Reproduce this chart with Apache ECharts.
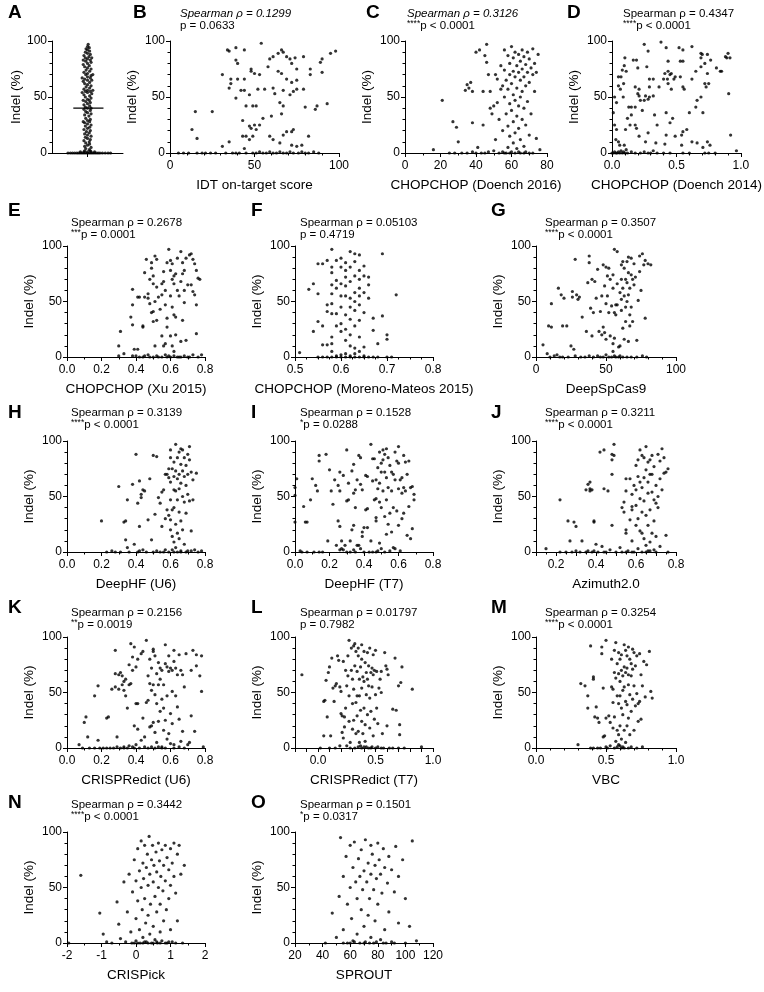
<!DOCTYPE html>
<html><head><meta charset="utf-8">
<script src="https://cdn.jsdelivr.net/npm/echarts@6/dist/echarts.min.js"></script>
<style>html,body{margin:0;padding:0;background:#fff}#c{width:764px;height:992px}</style>
</head><body><div id="c"></div><script>
// ---------------- DATA ----------------
const A_x = [-0.55,-0.48,-0.42,-0.36,-0.3,-0.25,-0.2,-0.15,-0.1,-0.05,0,0.05,0.1,0.15,0.2,0.25,0.3,0.35,0.42,0.5,0.58,0.65,-0.2,-0.1,0,0.1,0.2,-0.08,0.08,
0.05,-0.05,0.1,-0.08,0,0.06,-0.05,0.05,-0.1,0.08,0,-0.06,0.1,0,-0.08,0.05,-0.03,0.08,-0.1,0,0.06,-0.06,0.1,0,-0.08,0.06,-0.12,0,0.08,-0.05,0.04,-0.08,0.1,0,-0.05,0.08,-0.1,0,0.1,-0.06,0.06,-0.1,0,0.08,-0.05,0.05,-0.12,0,0.1,-0.06,0.06,-0.1,0.12,0,-0.15,0.08,-0.06,0.15,0,-0.1,0.06,-0.04,0.1,0,-0.08,0.06,-0.12,0,0.12,-0.08,0.08,-0.15,0,0.1,-0.05,0.15,0,-0.1,0.06,-0.04,0.1,0,-0.08,0.05,-0.12,0,0.1,-0.05,0.08,-0.12,0,0.12,-0.06,0.04,-0.1,0.08,0,-0.06,0.06,0,-0.04,0.05,0,0.02];
const A_y = [0,0,0,0,0,0,0,0,0,0,0,0,0,0,0,0,0,0,0,0,0,0,1,1,1,1,1,2,2,
3,4,5,6,7,8,9,10,11,12,13,14,15,16,17,18,19,20,21,22,23,24,25,26,27,28,28,29,30,31,33,34,35,36,37,38,39,40,40,41,42,43,44,45,46,47,47,48,49,50,51,52,53,54,54,55,55,56,56,57,58,59,60,61,62,63,64,65,65,66,67,67,68,69,70,70,71,72,73,74,75,76,77,78,79,80,81,82,83,83,84,85,85,86,87,88,89,90,91,92,93,94,95,97];
const A_mean = 40;

const B_pts = [[13,21],[15,37],[25,37],[16,13],[31,6],[35,10],[31,70],[34,92],[35,91],[39,94],[44,92],[39,83],[40,80],[36,66],[36,62],[35,58],[39,49],[40,66],[44,66],[42,56],[44,56],[48,75],[50,71],[53,70],[47,52],[45,42],[49,42],[43,29],[43,15],[45,15],[47,24],[50,25],[53,25],[49,15],[44,4],[47,12],
[48,73],[54,98],[52,57],[56,57],[59,84],[58,77],[61,86],[64,89],[66,92],[67,90],[69,86],[71,84],[74,85],[79,86],[72,80],[75,75],[83,75],[83,70],[90,84],[89,81],[95,89],[98,91],[90,72],[64,73],[66,71],[69,66],[72,63],[75,65],[61,58],[62,53],[67,56],[73,55],[75,57],[79,57],[71,52],[65,45],[67,42],[80,41],[86,39],[93,44],[87,42],[51,42],[55,31],[60,33],[66,35],[69,19],[72,19],[73,21],[59,15],[61,12],[65,9],[67,16],[72,7],[75,6],[78,7],[82,15],[48,22],[51,21],
[5,0],[8,0],[11,0],[16,0],[19,0],[21,0],[24,0],[27,0],[33,0],[37,0],[39,0],[41,0],[45,0],[49,0],[51,0],[53,1],[55,0],[57,0],[59,1],[61,0],[63,0],[65,1],[67,0],[69,0],[71,1],[73,0],[76,0],[78,1],[80,0],[82,0],[85,1],[88,0]];

const C_pts = [[16,3],[21,47],[25,0],[27,28],[28,0],[29,23],[30,10],[32,0],[34,56],[35,61],[35,0],[36,58],[37,63],[38,55],[38,27],[40,0],[40,90],[41,5],[42,92],[43,0],[44,55],[44,25],[45,87],[46,97],[46,81],[47,70],[47,1],[48,55],[48,40],[49,35],[50,2],[50,42],[51,70],[51,12],[52,66],[52,45],[53,0],[53,30],[54,57],[54,78],[55,60],[55,20],[55,1],[56,92],[56,50],[56,74],[57,65],[57,35],[57,0],[58,87],[58,57],[58,24],[58,5],[59,80],[59,70],[59,44],[59,15],[60,95],[60,62],[60,38],[60,1],[61,85],[61,73],[61,52],[61,28],[61,9],[62,90],[62,68],[62,47],[62,18],[62,0],[63,78],[63,58],[63,33],[63,4],[64,88],[64,72],[64,42],[64,22],[65,82],[65,65],[65,50],[65,12],[65,0],[66,92],[66,75],[66,55],[66,30],[67,86],[67,68],[67,40],[67,6],[68,79],[68,60],[68,25],[68,1],[69,90],[69,72],[69,46],[70,84],[70,63],[70,16],[71,76],[71,35],[72,93],[72,70],[72,0],[73,80],[73,55],[74,72],[74,13],[75,88],[76,3],[70,0],[67,0],[64,1],[59,0],[56,0],[45,0],[38,1]];

const D_pts = [[0.02,50],[0.035,45],[0.01,36],[0.02,25],[0.035,21],[0.03,12],[0.05,10],[0.06,7],[0.05,68],[0.07,68],[0.05,60],[0.065,57],[0.09,62],[0.095,78],[0.1,85],[0.08,74],[0.11,73],[0.087,50],[0.12,31],[0.13,41],[0.105,21],[0.095,7],[0.15,41],[0.18,41],[0.15,34],[0.14,25],[0.165,83],[0.19,83],[0.2,76],[0.18,59],[0.2,53],[0.21,51],[0.21,57],[0.22,47],[0.25,47],[0.235,38],[0.26,51],[0.18,25],[0.19,22],[0.21,15],[0.25,97],[0.28,91],[0.27,77],[0.29,66],[0.29,59],[0.29,50],[0.28,48],[0.32,66],[0.32,51],[0.33,34],[0.35,25],[0.28,18],[0.26,10],[0.34,9],[0.32,2],[0.365,59],[0.38,99],[0.42,94],[0.4,66],[0.41,71],[0.435,73],[0.45,70],[0.46,71],[0.43,66],[0.48,66],[0.49,68],[0.435,62],[0.46,57],[0.435,82],[0.42,36],[0.47,31],[0.45,27],[0.42,16],[0.41,8],[0.49,15],[0.52,94],[0.55,92],[0.53,82],[0.55,82],[0.53,68],[0.55,59],[0.56,57],[0.55,19],[0.54,16],[0.54,7],[0.58,21],[0.6,36],[0.62,95],[0.62,66],[0.65,73],[0.66,47],[0.65,41],[0.62,10],[0.66,9],[0.69,89],[0.69,85],[0.69,77],[0.72,80],[0.7,88],[0.74,88],[0.765,83],[0.74,71],[0.73,59],[0.72,62],[0.75,62],[0.69,50],[0.705,36],[0.705,5],[0.74,10],[0.76,7],[0.81,76],[0.84,73],[0.85,73],[0.88,86],[0.89,85],[0.9,89],[0.915,85],[0.905,53],[0.92,16],[0.965,2],
[0,0],[0.01,0],[0.02,1],[0.03,0],[0.04,0],[0.05,1],[0.06,0],[0.07,2],[0.08,0],[0.09,1],[0.1,0],[0.11,3],[0.12,0],[0.15,1],[0.18,0],[0.22,0],[0.25,1],[0.28,0],[0.3,0],[0.35,0],[0.4,0],[0.45,0],[0.55,0],[0.6,0],[0.72,0],[0.75,0],[0.8,0]];

const E_pts = [[0.3,1],[0.3,10],[0.31,23],[0.33,3],[0.37,36],[0.38,61],[0.38,47],[0.38,29],[0.39,7],[0.41,7],[0.41,54],[0.42,54],[0.4,1],[0.38,1],[0.44,27],[0.44,28],[0.45,54],[0.45,76],[0.46,88],[0.47,53],[0.47,57],[0.48,48],[0.48,70],[0.45,1],[0.47,2],[0.44,0],[0.49,80],[0.49,85],[0.5,73],[0.5,66],[0.5,41],[0.5,32],[0.51,10],[0.51,91],[0.52,88],[0.52,63],[0.51,50],[0.49,40],[0.52,33],[0.5,0],[0.52,1],[0.53,54],[0.54,43],[0.55,66],[0.55,56],[0.56,77],[0.56,68],[0.57,60],[0.57,47],[0.58,35],[0.58,27],[0.55,19],[0.56,10],[0.57,12],[0.58,85],[0.55,0],[0.57,2],[0.58,0],[0.59,97],[0.6,87],[0.61,84],[0.6,78],[0.61,70],[0.62,73],[0.62,66],[0.63,75],[0.6,55],[0.61,45],[0.62,38],[0.63,36],[0.6,19],[0.61,10],[0.62,5],[0.63,20],[0.64,89],[0.64,60],[0.6,0],[0.62,1],[0.64,0],[0.66,95],[0.67,85],[0.67,75],[0.66,68],[0.65,55],[0.68,60],[0.68,49],[0.67,33],[0.69,15],[0.66,14],[0.68,78],[0.69,89],[0.7,65],[0.65,0],[0.68,1],[0.7,0],[0.71,92],[0.72,93],[0.73,88],[0.74,84],[0.75,78],[0.74,56],[0.76,71],[0.77,70],[0.75,47],[0.75,21],[0.72,65],[0.73,59],[0.71,0],[0.73,2],[0.76,0],[0.78,2],[0.42,0],[0.48,0],[0.53,0],[0.59,1],[0.66,0]];

const F_pts = [[0.51,4],[0.53,61],[0.54,66],[0.54,23],[0.55,84],[0.55,57],[0.55,32],[0.56,84],[0.56,28],[0.57,87],[0.57,47],[0.57,41],[0.56,11],[0.57,11],[0.58,97],[0.58,81],[0.58,76],[0.58,65],[0.58,57],[0.58,48],[0.58,39],[0.58,18],[0.58,12],[0.58,5],[0.59,87],[0.59,69],[0.59,62],[0.59,39],[0.59,28],[0.6,89],[0.6,81],[0.6,66],[0.6,55],[0.6,45],[0.6,30],[0.6,23],[0.61,85],[0.61,78],[0.61,72],[0.61,64],[0.61,55],[0.61,38],[0.61,25],[0.61,15],[0.61,3],[0.62,95],[0.62,81],[0.62,68],[0.62,53],[0.62,45],[0.62,34],[0.62,20],[0.62,10],[0.63,93],[0.63,86],[0.63,73],[0.63,58],[0.63,50],[0.63,42],[0.63,28],[0.63,8],[0.63,3],[0.64,92],[0.64,78],[0.64,70],[0.64,62],[0.64,55],[0.64,47],[0.64,33],[0.64,18],[0.64,5],[0.65,82],[0.65,73],[0.65,58],[0.65,40],[0.65,9],[0.66,72],[0.66,65],[0.66,53],[0.67,35],[0.67,24],[0.68,12],[0.69,93],[0.69,37],[0.7,20],[0.7,16],[0.72,56],
[0.55,0],[0.56,0],[0.57,0],[0.58,0],[0.59,0],[0.6,0],[0.61,0],[0.62,0],[0.63,0],[0.64,0],[0.65,0],[0.66,0],[0.67,0],[0.68,0],[0.7,0],[0.71,0],[0.59,1],[0.6,2],[0.62,1],[0.65,1]];

const G_pts = [[5,11],[8,3],[9,28],[11,27],[11,48],[15,2],[16,62],[18,56],[19,28],[20,53],[22,28],[26,59],[26,54],[25,10],[27,7],[28,88],[29,56],[30,52],[31,54],[33,36],[36,23],[37,67],[38,91],[38,85],[39,44],[40,70],[40,19],[41,40],[42,68],[43,53],[44,79],[45,23],[46,41],[47,20],[47,55],[48,27],[48,83],[49,64],[49,22],[50,48],[50,81],[50,16],[51,73],[51,55],[52,80],[52,40],[53,19],[53,70],[54,46],[55,62],[55,74],[55,12],[55,5],[56,97],[56,40],[56,17],[57,38],[57,47],[58,95],[58,66],[58,47],[59,9],[60,10],[60,58],[61,83],[61,70],[61,52],[61,42],[62,86],[62,62],[62,26],[63,80],[63,55],[63,16],[64,70],[64,45],[64,32],[65,86],[65,67],[65,50],[66,90],[66,76],[66,56],[66,14],[67,62],[67,38],[67,28],[68,89],[68,74],[68,45],[69,70],[69,32],[70,84],[70,65],[71,72],[72,15],[73,51],[74,77],[74,91],[75,60],[76,93],[77,83],[78,87],[78,35],[80,84],[82,83],
[10,0],[13,1],[17,0],[19,0],[23,0],[28,1],[32,0],[35,0],[38,1],[41,0],[44,1],[46,0],[48,0],[50,2],[52,0],[54,0],[56,1],[57,0],[59,0],[60,1],[62,0],[65,0],[68,0],[72,0],[76,1],[79,0]];

const H_pts = [[0.2,28],[0.23,0],[0.26,1],[0.28,0],[0.3,59],[0.31,0],[0.33,27],[0.34,28],[0.34,11],[0.35,4],[0.35,47],[0.36,0],[0.38,61],[0.39,7],[0.4,88],[0.41,0],[0.41,44],[0.42,64],[0.42,23],[0.42,1],[0.43,49],[0.43,52],[0.44,56],[0.44,2],[0.45,55],[0.46,0],[0.47,29],[0.48,66],[0.49,11],[0.5,87],[0.5,0],[0.51,34],[0.52,86],[0.52,1],[0.53,49],[0.54,44],[0.55,54],[0.55,23],[0.56,56],[0.56,0],[0.57,70],[0.57,30],[0.57,2],[0.58,38],[0.58,70],[0.59,33],[0.59,75],[0.59,67],[0.59,0],[0.6,92],[0.6,85],[0.6,63],[0.6,47],[0.6,29],[0.6,20],[0.61,75],[0.61,38],[0.61,14],[0.61,2],[0.62,81],[0.62,68],[0.62,56],[0.62,40],[0.62,9],[0.63,97],[0.63,73],[0.63,55],[0.63,25],[0.63,4],[0.64,85],[0.64,66],[0.64,47],[0.64,17],[0.64,0],[0.65,90],[0.65,70],[0.65,57],[0.65,36],[0.65,12],[0.66,93],[0.66,79],[0.66,62],[0.66,28],[0.66,1],[0.67,92],[0.67,73],[0.67,50],[0.67,20],[0.68,85],[0.68,68],[0.68,45],[0.68,7],[0.69,78],[0.69,60],[0.69,35],[0.69,0],[0.7,88],[0.7,70],[0.7,52],[0.71,95],[0.71,83],[0.71,46],[0.72,72],[0.72,19],[0.72,1],[0.73,65],[0.73,47],[0.74,2],[0.75,71],[0.76,0],[0.78,1],[0.62,0],[0.66,0],[0.7,1],[0.54,0]];

const I_pts = [[0.0,58],[0.0,51],[0.0,27],[0.01,66],[0.03,1],[0.04,0],[0.05,41],[0.06,27],[0.07,27],[0.07,0],[0.09,47],[0.1,66],[0.11,0],[0.12,60],[0.13,55],[0.14,87],[0.14,82],[0.14,0],[0.16,0],[0.18,88],[0.19,10],[0.2,74],[0.21,55],[0.22,43],[0.23,65],[0.24,6],[0.25,60],[0.25,28],[0.26,72],[0.26,55],[0.26,23],[0.26,2],[0.27,10],[0.27,3],[0.28,2],[0.28,69],[0.29,6],[0.3,92],[0.3,46],[0.3,0],[0.31,47],[0.31,62],[0.32,10],[0.32,0],[0.33,20],[0.33,73],[0.34,79],[0.34,53],[0.34,24],[0.34,2],[0.35,56],[0.35,0],[0.35,40],[0.36,65],[0.36,6],[0.37,87],[0.37,6],[0.38,85],[0.38,61],[0.38,3],[0.39,56],[0.39,18],[0.39,14],[0.4,22],[0.4,0],[0.41,69],[0.41,38],[0.42,68],[0.42,39],[0.42,22],[0.43,0],[0.44,97],[0.44,10],[0.45,84],[0.45,64],[0.45,0],[0.46,84],[0.46,47],[0.47,65],[0.47,48],[0.47,31],[0.47,28],[0.47,0],[0.48,76],[0.48,57],[0.48,1],[0.49,90],[0.49,62],[0.49,45],[0.49,8],[0.5,80],[0.5,72],[0.5,40],[0.5,3],[0.51,92],[0.51,83],[0.51,55],[0.52,88],[0.52,72],[0.52,32],[0.52,0],[0.53,93],[0.53,67],[0.53,47],[0.53,16],[0.54,85],[0.54,58],[0.54,25],[0.55,78],[0.55,35],[0.55,1],[0.56,72],[0.56,55],[0.56,18],[0.57,70],[0.57,40],[0.57,4],[0.58,90],[0.58,65],[0.58,3],[0.59,82],[0.59,37],[0.6,95],[0.6,80],[0.6,57],[0.6,24],[0.61,65],[0.61,1],[0.62,67],[0.62,53],[0.62,30],[0.63,87],[0.63,58],[0.63,35],[0.64,81],[0.64,55],[0.65,70],[0.65,15],[0.66,82],[0.66,41],[0.67,58],[0.67,12],[0.68,59],[0.68,21],[0.69,52],[0.69,47]];

const J_pts = [[0.15,3],[0.22,47],[0.22,0],[0.26,28],[0.27,10],[0.28,0],[0.29,27],[0.3,23],[0.3,1],[0.32,0],[0.33,10],[0.35,0],[0.35,56],[0.36,61],[0.37,57],[0.37,55],[0.37,63],[0.38,56],[0.39,28],[0.39,27],[0.39,1],[0.4,7],[0.41,0],[0.42,90],[0.43,5],[0.44,92],[0.44,57],[0.44,0],[0.46,55],[0.47,2],[0.48,88],[0.48,83],[0.48,70],[0.48,24],[0.49,97],[0.49,87],[0.5,0],[0.52,4],[0.53,40],[0.54,36],[0.54,45],[0.55,66],[0.55,55],[0.55,17],[0.55,20],[0.56,1],[0.57,66],[0.57,29],[0.58,41],[0.58,38],[0.58,52],[0.58,10],[0.59,60],[0.59,0],[0.6,78],[0.6,56],[0.6,24],[0.6,42],[0.61,83],[0.61,68],[0.61,30],[0.61,3],[0.62,92],[0.62,63],[0.62,48],[0.62,19],[0.63,87],[0.63,58],[0.63,36],[0.63,17],[0.63,0],[0.64,85],[0.64,67],[0.64,46],[0.64,12],[0.65,95],[0.65,74],[0.65,33],[0.65,6],[0.66,81],[0.66,63],[0.66,53],[0.66,24],[0.66,1],[0.67,83],[0.67,70],[0.67,38],[0.67,9],[0.68,87],[0.68,70],[0.68,54],[0.68,17],[0.69,77],[0.69,47],[0.69,28],[0.69,2],[0.7,60],[0.7,44],[0.7,14],[0.71,88],[0.71,50],[0.71,40],[0.72,82],[0.72,66],[0.72,5],[0.73,93],[0.73,56],[0.74,85],[0.74,71],[0.75,72],[0.75,15],[0.76,75],[0.76,0],[0.65,0],[0.67,1],[0.7,0],[0.58,0],[0.55,0],[0.53,0],[0.45,0],[0.38,0],[0.36,1],[0.25,0]];

const K_pts = [[0.07,3],[0.09,0],[0.1,23],[0.11,28],[0.12,10],[0.13,0],[0.16,47],[0.18,56],[0.18,7],[0.19,0],[0.23,0],[0.23,27],[0.24,28],[0.25,0],[0.26,53],[0.28,88],[0.28,67],[0.28,55],[0.29,10],[0.29,1],[0.3,66],[0.3,53],[0.31,68],[0.31,0],[0.32,65],[0.32,57],[0.33,60],[0.33,52],[0.33,1],[0.34,47],[0.34,62],[0.35,36],[0.35,0],[0.36,75],[0.36,57],[0.36,2],[0.37,94],[0.37,58],[0.38,70],[0.38,82],[0.38,1],[0.39,91],[0.39,20],[0.39,0],[0.4,73],[0.4,40],[0.4,3],[0.41,80],[0.41,40],[0.41,17],[0.42,0],[0.43,85],[0.43,7],[0.44,87],[0.44,27],[0.45,10],[0.45,1],[0.46,97],[0.46,41],[0.47,65],[0.47,43],[0.47,0],[0.48,80],[0.48,58],[0.48,19],[0.49,72],[0.49,52],[0.49,20],[0.49,1],[0.5,89],[0.5,87],[0.5,57],[0.5,23],[0.51,83],[0.51,48],[0.51,14],[0.51,0],[0.52,67],[0.52,40],[0.52,5],[0.53,77],[0.53,57],[0.53,24],[0.54,72],[0.54,62],[0.54,33],[0.55,70],[0.55,44],[0.55,1],[0.56,57],[0.56,36],[0.56,16],[0.57,93],[0.57,76],[0.57,25],[0.57,0],[0.58,73],[0.58,47],[0.58,8],[0.59,83],[0.59,69],[0.59,13],[0.6,72],[0.6,31],[0.6,4],[0.61,70],[0.61,51],[0.61,22],[0.62,88],[0.62,78],[0.62,3],[0.63,72],[0.63,47],[0.64,66],[0.64,37],[0.65,84],[0.65,26],[0.66,70],[0.66,6],[0.67,66],[0.67,15],[0.68,55],[0.69,85],[0.7,3],[0.71,5],[0.72,29],[0.72,70],[0.73,88],[0.74,15],[0.75,74],[0.75,84],[0.77,65],[0.78,51],[0.78,83],[0.79,1],[0.62,0],[0.65,1],[0.68,0],[0.55,0],[0.53,1],[0.33,0],[0.27,0],[0.21,0],[0.16,0]];

const L_pts = [[-0.14,66],[0.05,11],[0.05,42],[0.06,43],[0.07,61],[0.08,28],[0.09,68],[0.1,73],[0.11,11],[0.12,81],[0.13,54],[0.14,42],[0.15,56],[0.16,58],[0.17,83],[0.18,79],[0.19,55],[0.19,2],[0.2,31],[0.2,51],[0.21,29],[0.21,14],[0.22,9],[0.22,78],[0.23,19],[0.23,28],[0.24,70],[0.24,36],[0.25,56],[0.25,2],[0.26,65],[0.26,83],[0.27,97],[0.27,47],[0.27,24],[0.28,5],[0.29,90],[0.29,70],[0.3,62],[0.3,40],[0.3,17],[0.31,92],[0.31,53],[0.31,25],[0.32,94],[0.32,74],[0.32,0],[0.33,87],[0.33,41],[0.33,13],[0.34,69],[0.34,47],[0.34,29],[0.35,90],[0.35,83],[0.35,15],[0.36,62],[0.36,47],[0.36,5],[0.37,73],[0.37,34],[0.37,2],[0.38,93],[0.38,80],[0.38,54],[0.38,24],[0.39,64],[0.39,13],[0.4,87],[0.4,60],[0.4,36],[0.4,1],[0.41,77],[0.41,21],[0.41,6],[0.42,68],[0.42,48],[0.43,86],[0.43,62],[0.43,30],[0.44,74],[0.44,56],[0.44,0],[0.45,90],[0.45,45],[0.45,18],[0.46,68],[0.46,33],[0.47,72],[0.47,55],[0.47,1],[0.48,84],[0.48,66],[0.48,11],[0.49,70],[0.49,26],[0.5,88],[0.5,48],[0.5,0],[0.51,69],[0.51,36],[0.52,22],[0.53,54],[0.54,62],[0.55,69],[0.55,50],[0.56,13],[0.57,0],[0.58,86],[0.59,74],[0.6,71],[0.6,20],[0.61,66],[0.62,0],[0.65,35],[0.67,81],[0.68,34],[0.7,56],[0.71,12],[0.71,21],[0.72,59],[0.73,73],[0.75,0],[0.82,53],[0.9,1],
[0.02,0],[0.1,0],[0.15,0],[0.28,0],[0.35,1],[0.38,0],[0.42,1],[0.46,0],[0.52,1],[0.55,0],[0.65,0],[0.7,0]];

const M_pts = [[0.3,3],[0.32,58],[0.35,56],[0.37,47],[0.37,36],[0.39,92],[0.39,0],[0.41,62],[0.41,64],[0.42,28],[0.43,37],[0.44,27],[0.45,23],[0.46,0],[0.47,91],[0.47,85],[0.48,54],[0.48,10],[0.49,11],[0.5,97],[0.5,27],[0.51,0],[0.52,29],[0.53,23],[0.53,2],[0.54,80],[0.54,55],[0.55,53],[0.55,41],[0.55,18],[0.56,88],[0.56,68],[0.56,28],[0.57,95],[0.57,63],[0.57,6],[0.58,76],[0.58,47],[0.58,16],[0.58,1],[0.59,86],[0.59,67],[0.59,40],[0.59,12],[0.6,80],[0.6,60],[0.6,47],[0.6,20],[0.6,2],[0.61,84],[0.61,70],[0.61,36],[0.61,8],[0.62,65],[0.62,52],[0.62,30],[0.63,93],[0.63,73],[0.63,55],[0.63,16],[0.63,0],[0.64,88],[0.64,68],[0.64,42],[0.64,5],[0.65,83],[0.65,72],[0.65,39],[0.65,20],[0.66,91],[0.66,66],[0.66,57],[0.66,27],[0.67,80],[0.67,48],[0.67,12],[0.68,76],[0.68,65],[0.68,33],[0.69,89],[0.69,71],[0.69,44],[0.7,86],[0.7,56],[0.7,16],[0.71,74],[0.71,38],[0.72,83],[0.72,49],[0.73,40],[0.73,24],[0.74,85],[0.74,42],[0.75,66],[0.75,26],[0.76,56],[0.77,78],[0.78,46],[0.79,75],[0.81,87],[0.82,51],[0.83,45],[0.76,1],[0.72,0],[0.68,1],[0.66,0],[0.62,1],[0.56,0],[0.5,1],[0.44,0],[0.41,0],[0.59,3],[0.61,0]];

const N_pts = [[-1.95,0],[-1.6,61],[-1.05,27],[-0.95,8],[-0.85,1],[-0.7,0],[-0.55,37],[-0.5,17],[-0.45,4],[-0.35,55],[-0.3,1],[-0.25,28],[-0.2,62],[-0.15,10],[-0.12,0],[-0.1,46],[-0.05,75],[0,56],[0,22],[0,2],[0.05,85],[0.05,38],[0.1,65],[0.1,12],[0.12,0],[0.15,92],[0.15,50],[0.18,30],[0.2,72],[0.2,5],[0.22,58],[0.25,88],[0.25,40],[0.28,18],[0.3,68],[0.3,1],[0.33,80],[0.35,52],[0.35,25],[0.38,96],[0.4,62],[0.4,8],[0.42,35],[0.45,75],[0.45,0],[0.48,88],[0.5,55],[0.5,15],[0.52,70],[0.55,42],[0.55,3],[0.58,82],[0.6,64],[0.6,28],[0.62,0],[0.65,90],[0.65,50],[0.68,74],[0.7,35],[0.7,10],[0.72,60],[0.75,84],[0.75,2],[0.78,47],[0.8,70],[0.8,20],[0.85,88],[0.85,56],[0.88,30],[0.9,77],[0.9,0],[0.95,66],[0.95,40],[1,85],[1,52],[1,12],[1.05,72],[1.05,1],[1.1,90],[1.1,60],[1.15,45],[1.2,80],[1.2,20],[1.25,88],[1.3,62],[1.35,0],[1.4,70],
[-0.05,0],[0.05,0],[0.2,0],[0.35,0],[0.5,0],[0.7,0],[0.85,0],[1.15,0],[0.25,1],[0.6,1],[0.95,1]];

const O_pts = [[42,0],[47,27],[50,5],[52,42],[53,95],[55,60],[55,12],[57,78],[58,0],[58,35],[60,88],[60,50],[61,22],[62,68],[62,2],[63,91],[64,55],[65,40],[65,8],[66,76],[67,60],[67,0],[68,84],[68,30],[69,48],[70,65],[70,15],[71,93],[71,1],[72,55],[73,72],[73,25],[74,40],[75,88],[75,62],[75,5],[76,80],[77,48],[77,0],[78,70],[78,20],[79,58],[80,90],[80,35],[81,75],[82,62],[82,3],[83,45],[84,85],[85,68],[85,12],[86,0],[87,54],[88,78],[88,28],[90,66],[90,1],[92,46],[93,87],[95,60],[95,18],[98,75],[100,40],[100,0],[103,15],[105,92],[108,2],
[55,0],[60,0],[63,1],[70,0],[74,0],[79,1],[84,0],[92,0]];

const xTitles = {B:'IDT on-target score',C:'CHOPCHOP (Doench 2016)',D:'CHOPCHOP (Doench 2014)',E:'CHOPCHOP (Xu 2015)',F:'CHOPCHOP (Moreno-Mateos 2015)',G:'DeepSpCas9',H:'DeepHF (U6)',I:'DeepHF (T7)',J:'Azimuth2.0',K:'CRISPRedict (U6)',L:'CRISPRedict (T7)',M:'VBC',N:'CRISPick',O:'SPROUT'};
const rhoText = {B:'0.1299',C:'0.3126',D:'0.4347',E:'0.2678',F:'0.05103',G:'0.3507',H:'0.3139',I:'0.1528',J:'0.3211',K:'0.2156',L:'0.01797',M:'0.3254',N:'0.3442',O:'0.1501'};
const starText = {B:'',C:'****',D:'****',E:'***',F:'',G:'****',H:'****',I:'*',J:'****',K:'**',L:'',M:'****',N:'****',O:'*'};
const pText = {B:'p = 0.0633',C:'p < 0.0001',D:'p < 0.0001',E:'p = 0.0001',F:'p = 0.4719',G:'p < 0.0001',H:'p < 0.0001',I:'p = 0.0288',J:'p < 0.0001',K:'p = 0.0019',L:'p = 0.7982',M:'p < 0.0001',N:'p < 0.0001',O:'p = 0.0317'};

// ---------------- LAYOUT ----------------
const FF = 'Liberation Sans, Arial, Helvetica, sans-serif';
// rows: top (y of 100), height, offsets of stats lines and letter relative to top
const R = [{t:41,h:112,sp:-27,pp:-15,lt:-28},{t:246,h:111,sp:-23,pp:-11,lt:-35},{t:441,h:111,sp:-28,pp:-16,lt:-28},{t:637,h:111,sp:-24,pp:-12,lt:-29},{t:832,h:111,sp:-27,pp:-15,lt:-29}];
const cols = [{l:67,w:138,tx:71,lx:8},{l:295,w:138,tx:300,lx:251},{l:536,w:140,tx:545,lx:491}];
const panels = [
 {k:'A', l:52, w:71, row:0, lx:8},
 {k:'B', l:170,w:169,row:0, lx:133, min:0,max:100,int:50,minor:5,fmt:v=>String(v), pts:B_pts, italic:true, tx:180},
 {k:'C', l:405,w:142,row:0, lx:366, min:0,max:80,int:20,minor:2,fmt:v=>String(v), pts:C_pts, italic:true, tx:407},
 {k:'D', l:612,w:141,row:0, lx:567, min:0,max:1,int:0.5,minor:5,fmt:v=>v.toFixed(1), pts:D_pts, tx:623},
 {k:'E', c:0,row:1, min:0,max:0.8,int:0.2,minor:2,fmt:v=>v.toFixed(1), pts:E_pts},
 {k:'F', c:1,row:1, min:0.5,max:0.8,int:0.1,minor:4,fmt:v=>v.toFixed(1), pts:F_pts},
 {k:'G', c:2,row:1, min:0,max:100,int:50,minor:5,fmt:v=>String(v), pts:G_pts},
 {k:'H', c:0,row:2, min:0,max:0.8,int:0.2,minor:2,fmt:v=>v.toFixed(1), pts:H_pts},
 {k:'I', c:1,row:2, min:0,max:0.8,int:0.2,minor:2,fmt:v=>v.toFixed(1), pts:I_pts},
 {k:'J', c:2,row:2, min:0.1,max:0.8,int:0.1,minor:2,fmt:v=>{const r=Math.round(v*10);return r%2===0?(r/10).toFixed(1):'';}, pts:J_pts},
 {k:'K', c:0,row:3, min:0,max:0.8,int:0.2,minor:2,fmt:v=>v.toFixed(1), pts:K_pts},
 {k:'L', c:1,row:3, min:-0.2,max:1.0,int:0.1,minor:1,fmt:v=>{const r=Math.round(v*10);return r%5===0?(r/10).toFixed(1):'';}, pts:L_pts},
 {k:'M', c:2,row:3, min:0,max:1,int:0.5,minor:5,fmt:v=>v.toFixed(1), pts:M_pts},
 {k:'N', c:0,row:4, min:-2,max:2,int:1,minor:2,fmt:v=>String(v), pts:N_pts},
 {k:'O', c:1,row:4, min:20,max:120,int:20,minor:2,fmt:v=>String(v), pts:O_pts}
];

const black = '#000';
const option = {animation:false, backgroundColor:'#fff', grid:[], xAxis:[], yAxis:[], series:[], graphic:[]};
const txtStyle = (text, font) => ({text, font, fill:black, textAlign:'left', align:'left', textVerticalAlign:'middle', verticalAlign:'middle'});

panels.forEach((p,i)=>{
  const row = R[p.row];
  const col = p.c!==undefined ? cols[p.c] : null;
  const l = col ? col.l : p.l;
  const w = col ? col.w : p.w;
  option.grid.push({left:l, top:row.t, width:w, height:row.h, containLabel:false});
  option.yAxis.push({gridIndex:i, type:'value', min:0, max:100, interval:50,
    axisLine:{show:true, onZero:false, lineStyle:{color:black,width:1}},
    axisTick:{show:true, length:4, lineStyle:{color:black,width:1}},
    minorTick:{show:true, splitNumber:5, length:2.5, lineStyle:{color:black,width:1}},
    splitLine:{show:false}, minorSplitLine:{show:false},
    axisLabel:{color:black, fontSize:12, fontFamily:FF, margin:5},
    name:'Indel (%)', nameLocation:'middle', nameGap: p.k==='A'?29:31, nameRotate:90,
    nameTextStyle:{color:black, fontSize:13.5, fontFamily:FF}});
  if(p.k==='A'){
    option.xAxis.push({gridIndex:i, type:'value', min:-1, max:1, interval:1,
      axisLine:{show:true, onZero:false, lineStyle:{color:black,width:1}},
      axisTick:{show:true, length:4, customValues:[0], lineStyle:{color:black}},
      axisLabel:{show:false}, splitLine:{show:false}});
    option.series.push({type:'scatter', xAxisIndex:i, yAxisIndex:i, symbolSize:3.2, clip:false,
      itemStyle:{color:black}, data:A_x.map((x,j)=>[x,A_y[j]])});
    option.series.push({type:'line', xAxisIndex:i, yAxisIndex:i, symbol:'none', clip:false,
      lineStyle:{color:black,width:1.2}, data:[[-0.4,A_mean],[0.45,A_mean]]});
  } else {
    option.xAxis.push({gridIndex:i, type:'value', min:p.min, max:p.max, interval:p.int,
      axisLine:{show:true, onZero:false, lineStyle:{color:black,width:1}},
      axisTick:{show:true, length:4, lineStyle:{color:black,width:1}},
      minorTick:{show:p.minor>1, splitNumber:p.minor, length:2.5, lineStyle:{color:black,width:1}},
      splitLine:{show:false}, minorSplitLine:{show:false},
      axisLabel:{color:black, fontSize:12, fontFamily:FF, margin:7, formatter:p.fmt, showMinLabel:true, showMaxLabel:true},
      name:xTitles[p.k], nameLocation:'middle', nameGap:25,
      nameTextStyle:{color:black, fontSize:13.5, fontFamily:FF}});
    option.series.push({type:'scatter', xAxisIndex:i, yAxisIndex:i, symbolSize:3.2, clip:false,
      itemStyle:{color:black}, data:p.pts});
    const tx = p.tx!==undefined ? p.tx : col.tx;
    option.graphic.push({type:'text', x:tx, y:row.t+row.sp,
      style:txtStyle('Spearman ρ = '+rhoText[p.k], (p.italic?'italic ':'')+'11.5px '+FF)});
    const st = starText[p.k];
    const s2 = txtStyle((st?'{s|'+st+'}':'')+'{n|'+pText[p.k]+'}', '11.5px '+FF);
    s2.rich = {s:{fontSize:8.5, fontFamily:FF, fill:black, verticalAlign:'top', lineHeight:13},
               n:{fontSize:11.5, fontFamily:FF, fill:black, lineHeight:13}};
    option.graphic.push({type:'text', x:tx, y:row.t+row.pp, style:s2});
  }
  const lx = p.lx!==undefined ? p.lx : col.lx;
  const ly = p.row===0 ? 13 : row.t + row.lt;
  option.graphic.push({type:'text', x:lx, y:ly, style:txtStyle(p.k, 'bold 19px '+FF)});
});

const chart = echarts.init(document.getElementById('c'), null, {renderer:'canvas'});
chart.setOption(option);
</script></body></html>
